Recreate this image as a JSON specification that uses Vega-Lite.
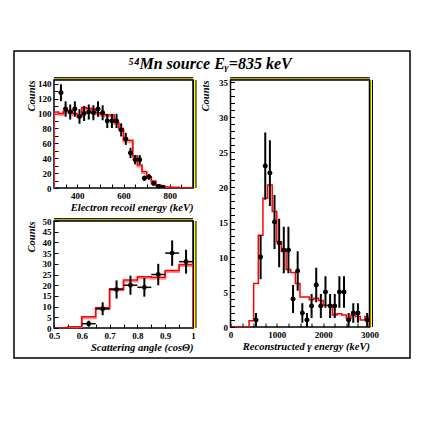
{
  "$schema": "https://vega.github.io/schema/vega-lite/v6.json",
  "padding": {"left": 13, "top": 50, "right": 0, "bottom": 0},
  "background": "white",
  "spacing": 1.5,
  "resolve": {"scale": {"color": "shared"}, "legend": {"color": "shared"}},
  "datasets": {
    "tlData": [
      {"e": 330, "c": 128, "lo": 116.7, "hi": 139.3, "e0": 320, "e1": 340},
      {"e": 350, "c": 106, "lo": 95.7, "hi": 116.3, "e0": 340, "e1": 360},
      {"e": 370, "c": 102, "lo": 91.9, "hi": 112.1, "e0": 360, "e1": 380},
      {"e": 390, "c": 106, "lo": 95.7, "hi": 116.3, "e0": 380, "e1": 400},
      {"e": 410, "c": 96, "lo": 86.2, "hi": 105.8, "e0": 400, "e1": 420},
      {"e": 430, "c": 100, "lo": 90, "hi": 110, "e0": 420, "e1": 440},
      {"e": 450, "c": 102, "lo": 91.9, "hi": 112.1, "e0": 440, "e1": 460},
      {"e": 470, "c": 101, "lo": 90.95, "hi": 111.05, "e0": 460, "e1": 480},
      {"e": 490, "c": 106, "lo": 95.7, "hi": 116.3, "e0": 480, "e1": 500},
      {"e": 510, "c": 101, "lo": 90.95, "hi": 111.05, "e0": 500, "e1": 520},
      {"e": 530, "c": 90, "lo": 80.5, "hi": 99.5, "e0": 520, "e1": 540},
      {"e": 550, "c": 90, "lo": 80.5, "hi": 99.5, "e0": 540, "e1": 560},
      {"e": 570, "c": 90, "lo": 80.5, "hi": 99.5, "e0": 560, "e1": 580},
      {"e": 590, "c": 78, "lo": 69.2, "hi": 86.8, "e0": 580, "e1": 600},
      {"e": 610, "c": 66, "lo": 57.9, "hi": 74.1, "e0": 600, "e1": 620},
      {"e": 630, "c": 47, "lo": 40.1, "hi": 53.9, "e0": 620, "e1": 640},
      {"e": 650, "c": 38, "lo": 31.8, "hi": 44.2, "e0": 640, "e1": 660},
      {"e": 670, "c": 38, "lo": 31.8, "hi": 44.2, "e0": 660, "e1": 680},
      {"e": 690, "c": 13, "lo": 9.4, "hi": 16.6, "e0": 680, "e1": 700},
      {"e": 710, "c": 15, "lo": 11.1, "hi": 18.9, "e0": 700, "e1": 720},
      {"e": 730, "c": 6, "lo": 3.55, "hi": 8.45, "e0": 720, "e1": 740},
      {"e": 750, "c": 2, "lo": 0.59, "hi": 3.41, "e0": 740, "e1": 760},
      {"e": 770, "c": 1, "lo": 0, "hi": 2, "e0": 760, "e1": 780}
    ],
    "tlMC": [
      {"i": 0, "e": 300, "m": 0}, {"i": 1, "e": 300, "m": 102}, {"i": 2, "e": 320, "m": 100},
      {"i": 3, "e": 340, "m": 103}, {"i": 4, "e": 360, "m": 104}, {"i": 5, "e": 380, "m": 100},
      {"i": 6, "e": 400, "m": 97}, {"i": 7, "e": 420, "m": 108}, {"i": 8, "e": 440, "m": 107},
      {"i": 9, "e": 460, "m": 106}, {"i": 10, "e": 480, "m": 101}, {"i": 11, "e": 500, "m": 99},
      {"i": 12, "e": 520, "m": 98}, {"i": 13, "e": 540, "m": 98}, {"i": 14, "e": 560, "m": 88},
      {"i": 15, "e": 580, "m": 80}, {"i": 16, "e": 600, "m": 64}, {"i": 17, "e": 620, "m": 64},
      {"i": 18, "e": 640, "m": 43}, {"i": 19, "e": 660, "m": 31}, {"i": 20, "e": 680, "m": 22},
      {"i": 21, "e": 700, "m": 15}, {"i": 22, "e": 720, "m": 9.5}, {"i": 23, "e": 740, "m": 4.5},
      {"i": 24, "e": 760, "m": 2.5}, {"i": 25, "e": 780, "m": 1.5}, {"i": 26, "e": 800, "m": 1},
      {"i": 27, "e": 820, "m": 1}, {"i": 28, "e": 840, "m": 0.5}, {"i": 29, "e": 860, "m": 0.5},
      {"i": 30, "e": 880, "m": 0.3}, {"i": 31, "e": 900, "m": 0}
    ],
    "blData": [
      {"a": 0.625, "c": 2, "lo": 0.59, "hi": 3.41, "a0": 0.6, "a1": 0.65},
      {"a": 0.675, "c": 9, "lo": 6, "hi": 12, "a0": 0.65, "a1": 0.7},
      {"a": 0.725, "c": 18, "lo": 13.76, "hi": 22.24, "a0": 0.7, "a1": 0.75},
      {"a": 0.775, "c": 20, "lo": 15.53, "hi": 24.47, "a0": 0.75, "a1": 0.8},
      {"a": 0.825, "c": 19, "lo": 14.64, "hi": 23.36, "a0": 0.8, "a1": 0.85},
      {"a": 0.875, "c": 25, "lo": 20, "hi": 30, "a0": 0.85, "a1": 0.9},
      {"a": 0.925, "c": 35, "lo": 29.08, "hi": 40.92, "a0": 0.9, "a1": 0.95},
      {"a": 0.975, "c": 31, "lo": 25.43, "hi": 36.57, "a0": 0.95, "a1": 1.0}
    ],
    "blMC": [
      {"i": 0, "a": 0.5, "m": 0}, {"i": 1, "a": 0.55, "m": 0.6}, {"i": 2, "a": 0.6, "m": 5.3},
      {"i": 3, "a": 0.65, "m": 9.5}, {"i": 4, "a": 0.7, "m": 18.3}, {"i": 5, "a": 0.75, "m": 22.4},
      {"i": 6, "a": 0.8, "m": 23.9}, {"i": 7, "a": 0.85, "m": 23.7}, {"i": 8, "a": 0.9, "m": 26.9},
      {"i": 9, "a": 0.95, "m": 29.7}, {"i": 10, "a": 1.0, "m": 0}
    ],
    "rData": [
      {"g": 550, "c": 1, "lo": 0, "hi": 2, "g0": 500, "g1": 600},
      {"g": 650, "c": 10, "lo": 6.84, "hi": 13.16, "g0": 600, "g1": 700},
      {"g": 750, "c": 23, "lo": 18.2, "hi": 27.8, "g0": 700, "g1": 800},
      {"g": 850, "c": 22, "lo": 17.31, "hi": 26.69, "g0": 800, "g1": 900},
      {"g": 950, "c": 15, "lo": 11.13, "hi": 18.87, "g0": 900, "g1": 1000},
      {"g": 1050, "c": 12, "lo": 8.54, "hi": 15.46, "g0": 1000, "g1": 1100},
      {"g": 1150, "c": 11, "lo": 7.68, "hi": 14.32, "g0": 1100, "g1": 1200},
      {"g": 1250, "c": 11, "lo": 7.68, "hi": 14.32, "g0": 1200, "g1": 1300},
      {"g": 1350, "c": 4, "lo": 2, "hi": 6, "g0": 1300, "g1": 1400},
      {"g": 1450, "c": 8, "lo": 5.17, "hi": 10.83, "g0": 1400, "g1": 1500},
      {"g": 1550, "c": 2, "lo": 0.59, "hi": 3.41, "g0": 1500, "g1": 1600},
      {"g": 1650, "c": 1, "lo": 0, "hi": 2, "g0": 1600, "g1": 1700},
      {"g": 1750, "c": 3, "lo": 1.27, "hi": 4.73, "g0": 1700, "g1": 1800},
      {"g": 1850, "c": 6, "lo": 3.55, "hi": 8.45, "g0": 1800, "g1": 1900},
      {"g": 1950, "c": 3, "lo": 1.27, "hi": 4.73, "g0": 1900, "g1": 2000},
      {"g": 2050, "c": 5, "lo": 2.76, "hi": 7.24, "g0": 2000, "g1": 2100},
      {"g": 2150, "c": 3, "lo": 1.27, "hi": 4.73, "g0": 2100, "g1": 2200},
      {"g": 2250, "c": 3, "lo": 1.27, "hi": 4.73, "g0": 2200, "g1": 2300},
      {"g": 2350, "c": 5, "lo": 2.76, "hi": 7.24, "g0": 2300, "g1": 2400},
      {"g": 2450, "c": 5, "lo": 2.76, "hi": 7.24, "g0": 2400, "g1": 2500},
      {"g": 2550, "c": 1, "lo": 0, "hi": 2, "g0": 2500, "g1": 2600},
      {"g": 2650, "c": 2, "lo": 0.59, "hi": 3.41, "g0": 2600, "g1": 2700},
      {"g": 2750, "c": 2, "lo": 0.59, "hi": 3.41, "g0": 2700, "g1": 2800},
      {"g": 2950, "c": 1, "lo": 0, "hi": 2, "g0": 2900, "g1": 3000}
    ],
    "rMC": [
      {"i": 0, "g": 0, "m": 0}, {"i": 1, "g": 400, "m": 0.9}, {"i": 2, "g": 500, "m": 6.2},
      {"i": 3, "g": 600, "m": 13.1}, {"i": 4, "g": 700, "m": 18.4}, {"i": 5, "g": 800, "m": 20.3},
      {"i": 6, "g": 900, "m": 16.5}, {"i": 7, "g": 1000, "m": 12.2}, {"i": 8, "g": 1100, "m": 10.8},
      {"i": 9, "g": 1200, "m": 8.2}, {"i": 10, "g": 1300, "m": 7.8}, {"i": 11, "g": 1400, "m": 6.2},
      {"i": 12, "g": 1500, "m": 4.3}, {"i": 13, "g": 1600, "m": 4.3}, {"i": 14, "g": 1700, "m": 3.9},
      {"i": 15, "g": 1800, "m": 4.1}, {"i": 16, "g": 1900, "m": 3.8}, {"i": 17, "g": 2000, "m": 3.1},
      {"i": 18, "g": 2100, "m": 3.1}, {"i": 19, "g": 2200, "m": 1.7}, {"i": 20, "g": 2300, "m": 1.9},
      {"i": 21, "g": 2400, "m": 1.7}, {"i": 22, "g": 2500, "m": 1.2}, {"i": 23, "g": 2600, "m": 1.7},
      {"i": 24, "g": 2700, "m": 1.5}, {"i": 25, "g": 2800, "m": 1.0}, {"i": 26, "g": 2900, "m": 1.5},
      {"i": 27, "g": 3000, "m": 0}
    ]
  },
  "hconcat": [
    {
      "spacing": 2,
      "resolve": {"scale": {"color": "shared"}, "legend": {"color": "shared"}},
      "vconcat": [
        {
          "width": 139,
          "height": 108,
          "layer": [
            {
              "data": {"name": "tlMC"},
              "mark": {"type": "line", "interpolate": "step-after", "color": "#ff8a8a", "strokeWidth": 2, "yOffset": 1.5, "clip": true},
              "encoding": {
                "x": {"field": "e", "type": "quantitative", "title": "Electron recoil energy (keV)",
                      "scale": {"domain": [300, 900], "nice": false, "zero": false},
                      "axis": {"values": [300, 350, 400, 450, 500, 550, 600, 650, 700, 750, 800, 850, 900], "tickCount": 100, "format": "d", "labelExpr": "datum.value % 200 == 0 ? datum.label : ''", "labelOverlap": false, "labelBound": false, "labelFlush": false, "titleAnchor": "end", "titlePadding": 2}},
                "y": {"field": "m", "type": "quantitative", "title": "Counts",
                      "scale": {"domain": [0, 145], "nice": false},
                      "axis": {"values": [0, 10, 20, 30, 40, 50, 60, 70, 80, 90, 100, 110, 120, 130, 140], "tickCount": 100, "format": "d", "labelExpr": "datum.value % 20 == 0 ? datum.label : ''", "labelOverlap": false, "labelBound": false, "titleAnchor": "end", "titlePadding": 1}},
                "order": {"field": "i", "type": "quantitative"}
              }
            },
            {
              "data": {"name": "tlMC"},
              "mark": {"type": "line", "interpolate": "step-after", "color": "#ff0000", "strokeWidth": 1.5, "clip": true},
              "encoding": {
                "x": {"field": "e", "type": "quantitative", "title": "Electron recoil energy (keV)"},
                "y": {"field": "m", "type": "quantitative", "title": "Counts"},
                "order": {"field": "i", "type": "quantitative"}
              }
            },
            {
              "data": {"name": "tlData"},
              "mark": {"type": "rule", "color": "black", "strokeWidth": 1.5, "clip": true},
              "encoding": {
                "x": {"field": "e0", "type": "quantitative", "title": "Electron recoil energy (keV)"},
                "x2": {"field": "e1"},
                "y": {"field": "c", "type": "quantitative", "title": "Counts"}
              }
            },
            {
              "data": {"name": "tlData"},
              "mark": {"type": "rule", "color": "black", "strokeWidth": 2, "clip": true},
              "encoding": {
                "x": {"field": "e", "type": "quantitative", "title": "Electron recoil energy (keV)"},
                "y": {"field": "lo", "type": "quantitative", "title": "Counts"},
                "y2": {"field": "hi"}
              }
            },
            {
              "data": {"name": "tlData"},
              "mark": {"type": "point", "filled": true, "color": "black", "opacity": 1, "size": 24, "clip": true},
              "encoding": {
                "x": {"field": "e", "type": "quantitative", "title": "Electron recoil energy (keV)"},
                "y": {"field": "c", "type": "quantitative", "title": "Counts"}
              }
            },
            {
              "data": {"name": "tlData"},
              "mark": {"type": "point", "opacity": 0},
              "encoding": {
                "x": {"field": "e", "type": "quantitative", "title": "Electron recoil energy (keV)"},
                "y": {"field": "c", "type": "quantitative", "title": "Counts"},
                "color": {"field": "c", "type": "quantitative",
                          "scale": {"range": ["transparent", "transparent"]},
                          "legend": {"orient": "none", "legendX": -40, "legendY": -29, "direction": "horizontal",
                                     "gradientLength": 386, "gradientThickness": 280, "gradientStrokeColor": "transparent", "gradientStrokeWidth": 0,
                                     "title": "⁵⁴Mn source Eᵧ=835 keV", "titleFont": "Liberation Serif", "titleFontSize": 16, "titleFontStyle": "italic", "titleFontWeight": "bold", "titleColor": "black", "titleAnchor": "middle", "titleOrient": "top", "titlePadding": 0, "titleLimit": 0,
                                     "padding": 5, "strokeColor": "black",
                                     "labelOpacity": 0, "labelFontSize": 1, "labelOffset": 0,
                                     "encode": {"legend": {"update": {"strokeWidth": {"value": 1.5}}}}}}
              }
            },
            {
              "data": {"values": [{}]},
              "mark": {"type": "rule", "color": "black", "strokeWidth": 3, "yOffset": -1.5, "clip": false},
              "encoding": {"x": {"datum": 300, "type": "quantitative"}, "x2": {"datum": 900}, "y": {"datum": 145, "type": "quantitative"}}
            },
            {
              "data": {"values": [{}]},
              "mark": {"type": "rule", "color": "#b3a63a", "strokeWidth": 1.5, "yOffset": -1.5, "clip": false},
              "encoding": {"x": {"datum": 300, "type": "quantitative"}, "x2": {"datum": 900}, "y": {"datum": 145, "type": "quantitative"}}
            },
            {
              "data": {"values": [{}]},
              "mark": {"type": "rule", "color": "black", "strokeWidth": 3.5, "xOffset": 1.75, "clip": false},
              "encoding": {"x": {"datum": 900, "type": "quantitative"}, "y": {"datum": 0, "type": "quantitative"}, "y2": {"datum": 145}}
            },
            {
              "data": {"values": [{}]},
              "mark": {"type": "rule", "color": "#ffff00", "strokeWidth": 1.5, "xOffset": 1.75, "clip": false},
              "encoding": {"x": {"datum": 900, "type": "quantitative"}, "y": {"datum": 0, "type": "quantitative"}, "y2": {"datum": 145}}
            }
          ]
        },
        {
          "width": 139,
          "height": 107,
          "layer": [
            {
              "data": {"name": "blMC"},
              "mark": {"type": "line", "interpolate": "step-after", "color": "#ff8a8a", "strokeWidth": 2, "yOffset": 1.5, "clip": true},
              "encoding": {
                "x": {"field": "a", "type": "quantitative", "title": "Scattering angle    (cosΘ)",
                      "scale": {"domain": [0.5, 1], "nice": false, "zero": false},
                      "axis": {"values": [0.5, 0.55, 0.6, 0.65, 0.7, 0.75, 0.8, 0.85, 0.9, 0.95, 1], "tickCount": 100, "format": ".1~f", "labelExpr": "abs(datum.value * 10 - round(datum.value * 10)) < 0.001 ? datum.label : ''", "labelOverlap": false, "labelBound": false, "labelFlush": false, "titleAnchor": "end", "titlePadding": 2}},
                "y": {"field": "m", "type": "quantitative", "title": "Counts",
                      "scale": {"domain": [0, 50], "nice": false},
                      "axis": {"values": [0, 5, 10, 15, 20, 25, 30, 35, 40, 45, 50], "tickCount": 100, "format": "d", "labelOverlap": false, "labelBound": false, "titleAnchor": "end", "titlePadding": 6}},
                "order": {"field": "i", "type": "quantitative"}
              }
            },
            {
              "data": {"name": "blMC"},
              "mark": {"type": "line", "interpolate": "step-after", "color": "#ff0000", "strokeWidth": 1.5, "clip": true},
              "encoding": {
                "x": {"field": "a", "type": "quantitative", "title": "Scattering angle    (cosΘ)"},
                "y": {"field": "m", "type": "quantitative", "title": "Counts"},
                "order": {"field": "i", "type": "quantitative"}
              }
            },
            {
              "data": {"name": "blData"},
              "mark": {"type": "rule", "color": "black", "strokeWidth": 1.5, "clip": true},
              "encoding": {
                "x": {"field": "a0", "type": "quantitative", "title": "Scattering angle    (cosΘ)"},
                "x2": {"field": "a1"},
                "y": {"field": "c", "type": "quantitative", "title": "Counts"}
              }
            },
            {
              "data": {"name": "blData"},
              "mark": {"type": "rule", "color": "black", "strokeWidth": 2, "clip": true},
              "encoding": {
                "x": {"field": "a", "type": "quantitative", "title": "Scattering angle    (cosΘ)"},
                "y": {"field": "lo", "type": "quantitative", "title": "Counts"},
                "y2": {"field": "hi"}
              }
            },
            {
              "data": {"name": "blData"},
              "mark": {"type": "point", "filled": true, "color": "black", "opacity": 1, "size": 24, "clip": true},
              "encoding": {
                "x": {"field": "a", "type": "quantitative", "title": "Scattering angle    (cosΘ)"},
                "y": {"field": "c", "type": "quantitative", "title": "Counts"}
              }
            },
            {
              "data": {"values": [{}]},
              "mark": {"type": "rule", "color": "black", "strokeWidth": 3, "yOffset": -1.5, "clip": false},
              "encoding": {"x": {"datum": 0.5, "type": "quantitative"}, "x2": {"datum": 1}, "y": {"datum": 50, "type": "quantitative"}}
            },
            {
              "data": {"values": [{}]},
              "mark": {"type": "rule", "color": "#b3a63a", "strokeWidth": 1.5, "yOffset": -1.5, "clip": false},
              "encoding": {"x": {"datum": 0.5, "type": "quantitative"}, "x2": {"datum": 1}, "y": {"datum": 50, "type": "quantitative"}}
            },
            {
              "data": {"values": [{}]},
              "mark": {"type": "rule", "color": "black", "strokeWidth": 3.5, "xOffset": 1.75, "clip": false},
              "encoding": {"x": {"datum": 1, "type": "quantitative"}, "y": {"datum": 0, "type": "quantitative"}, "y2": {"datum": 50}}
            },
            {
              "data": {"values": [{}]},
              "mark": {"type": "rule", "color": "#ffff00", "strokeWidth": 1.5, "xOffset": 1.75, "clip": false},
              "encoding": {"x": {"datum": 1, "type": "quantitative"}, "y": {"datum": 0, "type": "quantitative"}, "y2": {"datum": 50}}
            }
          ]
        }
      ]
    },
    {
      "width": 139,
      "height": 247,
      "layer": [
        {
          "data": {"name": "rMC"},
          "mark": {"type": "line", "interpolate": "step-after", "color": "#ff0000", "strokeWidth": 1.5, "clip": true},
          "encoding": {
            "x": {"field": "g", "type": "quantitative", "title": "Reconstructed γ energy  (keV)",
                  "scale": {"domain": [0, 3000], "nice": false},
                  "axis": {"values": [0, 250, 500, 750, 1000, 1250, 1500, 1750, 2000, 2250, 2500, 2750, 3000], "tickCount": 100, "format": "d", "labelExpr": "datum.value % 1000 == 0 ? datum.label : ''", "labelOverlap": false, "labelBound": false, "labelFlush": false, "titleAnchor": "end", "titlePadding": 2}},
            "y": {"field": "m", "type": "quantitative", "title": "Counts",
                  "scale": {"domain": [0, 35.3], "nice": false},
                  "axis": {"values": [0, 1, 2, 3, 4, 5, 6, 7, 8, 9, 10, 11, 12, 13, 14, 15, 16, 17, 18, 19, 20, 21, 22, 23, 24, 25, 26, 27, 28, 29, 30, 31, 32, 33, 34, 35], "tickCount": 100, "format": "d", "labelExpr": "datum.value % 5 == 0 ? datum.label : ''", "labelOverlap": false, "labelBound": false, "titleAnchor": "end", "titlePadding": 8}},
            "order": {"field": "i", "type": "quantitative"}
          }
        },
        {
          "data": {"name": "rData"},
          "mark": {"type": "rule", "color": "black", "strokeWidth": 1.5, "clip": true},
          "encoding": {
            "x": {"field": "g0", "type": "quantitative", "title": "Reconstructed γ energy  (keV)"},
            "x2": {"field": "g1"},
            "y": {"field": "c", "type": "quantitative", "title": "Counts"}
          }
        },
        {
          "data": {"name": "rData"},
          "mark": {"type": "rule", "color": "black", "strokeWidth": 2, "clip": true},
          "encoding": {
            "x": {"field": "g", "type": "quantitative", "title": "Reconstructed γ energy  (keV)"},
            "y": {"field": "lo", "type": "quantitative", "title": "Counts"},
            "y2": {"field": "hi"}
          }
        },
        {
          "data": {"name": "rData"},
          "mark": {"type": "point", "filled": true, "color": "black", "opacity": 1, "size": 24, "clip": true},
          "encoding": {
            "x": {"field": "g", "type": "quantitative", "title": "Reconstructed γ energy  (keV)"},
            "y": {"field": "c", "type": "quantitative", "title": "Counts"}
          }
        },
        {
          "data": {"values": [{}]},
          "mark": {"type": "rule", "color": "black", "strokeWidth": 3, "yOffset": -1.5, "clip": false},
          "encoding": {"x": {"datum": 0, "type": "quantitative"}, "x2": {"datum": 3000}, "y": {"datum": 35.3, "type": "quantitative"}}
        },
        {
          "data": {"values": [{}]},
          "mark": {"type": "rule", "color": "#b3a63a", "strokeWidth": 1.5, "yOffset": -1.5, "clip": false},
          "encoding": {"x": {"datum": 0, "type": "quantitative"}, "x2": {"datum": 3000}, "y": {"datum": 35.3, "type": "quantitative"}}
        },
        {
          "data": {"values": [{}]},
          "mark": {"type": "rule", "color": "black", "strokeWidth": 3.5, "xOffset": 1.75, "clip": false},
          "encoding": {"x": {"datum": 3000, "type": "quantitative"}, "y": {"datum": 0, "type": "quantitative"}, "y2": {"datum": 35.3}}
        },
        {
          "data": {"values": [{}]},
          "mark": {"type": "rule", "color": "#ffff00", "strokeWidth": 1.5, "xOffset": 1.75, "clip": false},
          "encoding": {"x": {"datum": 3000, "type": "quantitative"}, "y": {"datum": 0, "type": "quantitative"}, "y2": {"datum": 35.3}}
        }
      ]
    }
  ],
  "config": {
    "view": {"stroke": "black", "strokeWidth": 1.5},
    "axis": {
      "domain": false, "grid": false, "ticks": true, "tickColor": "black", "tickWidth": 1, "tickSize": -4,
      "labelPadding": 7,
      "labelFont": "Liberation Serif", "labelFontWeight": "bold", "labelFontSize": 9, "labelColor": "black",
      "labelFlush": false, "labelOverlap": false, "labelBound": false,
      "titleFont": "Liberation Serif", "titleFontStyle": "italic", "titleFontWeight": "bold", "titleFontSize": 10.5, "titleColor": "black"
    }
  }
}
